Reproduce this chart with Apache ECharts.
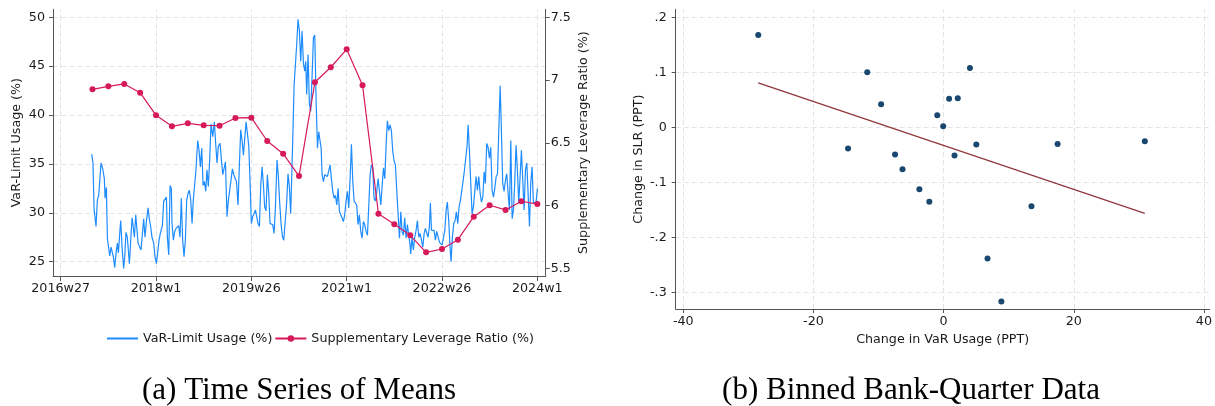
<!DOCTYPE html>
<html>
<head>
<meta charset="utf-8">
<script src="https://cdn.jsdelivr.net/npm/echarts@6/dist/echarts.min.js"></script>
<style>
html,body{margin:0;padding:0;background:#fff;}
#chart{width:1215px;height:406px;}
</style>
</head>
<body>
<div id="chart"></div>
<script>
// ---------- Panel (a): time series of means ----------
// x values are weeks counted from 2016w27
const weekTicks = [0, 78, 156, 234, 312, 390];
const weekTickLabels = ['2016w27', '2018w1', '2019w26', '2021w1', '2022w26', '2024w1'];
const varUsageTicks = [25, 30, 35, 40, 45, 50];
const slrTicks = [5.5, 6, 6.5, 7, 7.5];

// [week, VaR-limit usage %]
const varUsage = [
[25.4,36.0],[26.4,35.1],[27.3,30.4],[28.9,28.6],[30.0,31.3],[31.1,31.8],[33.0,35.1],[34.4,34.5],[35.7,33.5],[36.3,31.5],
[37.4,32.6],[38.2,27.4],[39.0,27.2],[40.1,25.6],[41.2,26.5],[42.3,26.7],[43.1,25.5],[44.2,24.4],[45.3,25.9],[46.4,26.9],
[47.2,25.9],[48.3,27.9],[49.1,29.2],[50.2,26.5],[51.5,24.3],[52.4,25.5],[53.4,28.0],[54.5,27.5],[56.2,24.8],[57.3,27.2],
[58.4,29.5],[59.2,28.7],[60.3,27.5],[61.4,29.8],[62.4,29.6],[63.3,26.9],[64.4,27.0],[65.7,26.2],[67.1,28.2],[67.9,29.4],
[69.0,27.5],[70.1,29.1],[71.5,30.5],[72.5,29.4],[73.6,28.6],[74.7,27.5],[76.1,26.9],[77.2,25.5],[78.3,24.8],[79.4,25.0],
[80.5,27.2],[81.5,27.9],[83.2,28.7],[84.3,31.2],[85.4,31.3],[86.5,31.6],[87.3,27.5],[88.4,25.7],[89.5,32.8],[90.5,32.5],
[91.1,28.9],[92.2,27.2],[93.3,28.1],[94.4,28.4],[95.5,28.3],[96.5,28.7],[97.6,27.5],[98.7,31.5],[99.8,27.2],[100.9,25.5],
[102.0,27.2],[103.1,31.3],[104.2,32.0],[105.3,32.3],[106.4,31.3],[107.5,28.9],[108.5,31.3],[109.6,31.3],[110.7,34.4],
[112.1,37.4],[113.2,36.4],[114.3,34.7],[115.4,36.6],[116.5,32.8],[117.6,33.2],[118.7,32.2],[119.7,34.4],[120.8,32.7],
[121.9,35.4],[123.0,39.1],[124.4,37.8],[125.7,39.3],[126.8,37.1],[127.9,35.1],[129.0,36.8],[130.4,37.1],[131.5,35.4],
[132.6,33.9],[133.7,33.7],[134.8,35.2],[136.1,29.6],[137.2,31.3],[138.3,32.3],[139.4,32.2],[140.5,34.5],[141.6,33.9],
[142.7,33.9],[143.8,33.2],[145.1,30.8],[146.2,34.9],[147.3,38.5],[148.4,37.4],[149.5,35.9],[150.6,36.1],[151.7,39.3],
[152.8,38.1],[153.9,36.8],[154.9,33.3],[156.0,28.9],[157.1,29.6],[158.2,29.9],[159.3,30.3],[160.4,29.6],[161.5,28.9],
[162.6,28.6],[163.7,32.8],[164.8,34.7],[165.8,33.0],[166.9,30.6],[168.0,30.2],[169.1,33.9],[170.2,32.0],[171.3,28.9],
[172.4,28.9],[173.5,28.8],[174.6,27.9],[175.7,30.6],[177.0,35.4],[178.1,33.7],[179.2,31.0],[180.3,28.9],[181.4,27.6],
[182.5,27.2],[183.9,27.0],[184.9,31.0],[186.0,34.0],[187.1,32.7],[188.2,29.9],
[189.9,37.6],[191.0,43.1],[192.0,43.3],[193.1,47.2],[194.2,49.8],[195.3,48.6],[196.4,45.5],[197.5,48.6],[198.6,45.3],
[199.7,44.5],[200.5,45.5],[201.3,42.1],[202.4,46.2],[203.5,41.1],[204.6,40.4],[205.7,44.0],[206.8,47.9],[207.9,48.2],
[209.0,41.4],[210.1,36.6],[211.1,38.3],[212.2,38.5],[213.1,36.6],[213.9,33.9],[215.0,33.2],[216.1,33.9],[217.1,34.1],
[218.2,33.7],[219.3,33.9],[220.4,34.9],[221.5,33.5],[222.6,32.2],[223.7,31.5],[224.8,31.8],[225.9,30.8],[227.0,32.5],
[228.1,30.1],[229.2,29.8],[230.2,29.5],[231.3,29.1],[232.4,29.8],[233.5,31.2],[234.6,32.2],[235.7,30.5],[236.8,33.5],
[237.9,37.0],[239.0,33.2],[240.1,31.2],[241.2,31.2],[242.2,30.8],[243.3,28.8],[244.4,29.8],[245.5,28.1],[246.6,27.4],
[247.7,29.1],[248.8,28.8],[249.9,28.1],[251.0,27.7],[252.1,30.8],[253.2,33.9],[254.2,34.9],[255.3,34.6],[256.4,31.5],
[257.5,31.2],[258.6,32.2],[259.7,33.5],[260.8,32.2],[261.9,30.8],[263.0,30.6],[264.1,34.6],[265.2,33.5],[266.3,37.0],
[267.3,39.4],[268.4,38.4],[269.5,39.0],[270.6,38.4],[271.7,36.3],[272.8,35.3],[273.9,34.9],[275.0,32.2],[276.1,29.8],
[277.2,27.4],[278.3,30.1],[279.3,28.1],[280.4,27.7],[281.5,29.5],[282.6,27.4],[283.7,28.8],[284.8,27.7],[285.9,26.7],
[286.4,25.8],[287.5,27.5],[288.6,26.2],[289.7,27.5],[290.8,28.2],[291.9,29.2],[293.0,27.5],[294.1,27.9],[295.2,27.2],
[296.3,26.5],[297.4,27.9],[298.4,28.4],[299.5,28.6],[300.6,27.5],[301.7,28.6],[302.5,31.0],[303.4,28.2],[304.4,28.1],
[305.5,28.2],[306.6,27.2],[307.7,28.1],[308.8,27.9],[309.9,27.0],[311.0,26.9],[312.1,26.7],[313.2,26.7],[314.3,28.2],
[315.4,30.3],[316.4,31.1],[317.5,29.2],[318.6,26.5],[319.4,25.0],[320.5,27.5],[321.6,28.9],[322.7,29.2],[323.8,30.1],
[324.9,28.9],[326.0,30.6],[327.1,31.3],[328.2,31.5],[329.3,33.3],[330.4,34.4],[331.4,34.4],[332.5,36.8],[333.4,39.0],
[334.4,36.4],[335.5,36.2],[336.6,29.9],[337.7,30.6],[338.8,30.6],[339.9,33.7],[341.0,32.3],[342.1,33.7],[343.2,32.0],
[344.3,31.1],[345.4,31.6],[346.5,34.2],[347.5,33.0],[348.6,37.1],[349.7,36.7],[350.8,35.6],[351.9,36.7],[353.0,32.3],
[354.1,31.6],[355.2,32.5],[356.3,33.7],[357.4,34.0],[358.5,38.5],[359.6,43.0],[360.6,38.5],[361.7,33.0],[362.8,32.2],
[363.9,33.3],[365.0,34.0],[366.1,32.0],[367.2,30.3],[368.3,37.4],[369.4,29.4],[370.5,30.3],[371.6,33.3],[372.6,36.9],
[373.7,34.4],[374.8,31.0],[375.9,33.7],[377.0,36.4],[378.1,33.3],[379.2,30.3],[380.3,34.4],[381.4,35.1],[382.5,34.9],
[383.6,28.6],[384.6,33.0],[385.7,34.7],[386.8,31.0],[387.9,31.0],[389.0,31.1],[390.1,32.5]
];

// quarterly SLR means (week, %)
const slrWeeks = [26,39,52,65,78,91,104,117,130,143,156,169,182,195,208,221,234,247,260,273,286,299,312,325,338,351,364,377,390];
const slrValues = [6.926,6.950,6.969,6.899,6.719,6.631,6.655,6.639,6.636,6.698,6.700,6.514,6.413,6.235,
                   6.982,7.102,7.245,6.958,5.935,5.850,5.763,5.627,5.654,5.728,5.911,6.002,5.965,6.034,6.012];

// ---------- Panel (b): binned bank-quarter data ----------
const binVarChange = [-28.48,-11.73,-9.60,-14.68,-7.46,-6.31,-3.72,-2.19,-0.97,-0.06,0.85,2.18,1.68,4.05,5.03,6.75,8.88,13.50,17.52,30.92];
const binSlrChange = [0.168,0.100,0.042,-0.038,-0.049,-0.076,-0.112,-0.135,0.022,0.002,0.052,0.053,-0.051,0.108,-0.031,-0.238,-0.316,-0.143,-0.030,-0.025];
const fitVar = [-28.48, 30.92];
const fitSlr = [0.081, -0.156];
const binXTicks = [-40, -20, 0, 20, 40];
const binYTicks = [-0.3, -0.2, -0.1, 0, 0.1, 0.2];
const binYTickLabels = ['-.3', '-.2', '-.1', '0', '.1', '.2'];

// ---------- chart ----------
const FONT = 'DejaVu Sans';
const FS = 12.7;
const AXIS_COLOR = '#555';
const TEXT_COLOR = '#1a1a1a';
const GRID_LINE = {type: [5, 3], color: '#e4e4e4', width: 1};

function labelFor(values, labels) {
  return function (v) {
    let best = 0;
    for (let i = 1; i < values.length; i++) {
      if (Math.abs(values[i] - v) < Math.abs(values[best] - v)) best = i;
    }
    return labels[best];
  };
}

function axisBase(extra) {
  return Object.assign({
    axisLine: {show: true, onZero: false, lineStyle: {color: AXIS_COLOR, width: 1}},
    axisTick: {show: true, length: 4, lineStyle: {color: AXIS_COLOR}},
    splitLine: {show: false},
    nameTextStyle: {fontFamily: FONT, fontSize: FS, color: TEXT_COLOR},
  }, extra);
}

function gridMarkLine(yTicks, xTicks) {
  return {
    silent: true, z: 0, symbol: ['none', 'none'], label: {show: false},
    lineStyle: GRID_LINE, emphasis: {disabled: true},
    data: yTicks.map(v => ({yAxis: v})).concat(xTicks.map(v => ({xAxis: v})))
  };
}

const chart = echarts.init(document.getElementById('chart'), null, {renderer: 'canvas'});

const option = {
  animation: false,
  backgroundColor: '#fff',
  textStyle: {fontFamily: FONT},
  grid: [
    {left: 53, top: 9.3, width: 492.7, height: 266.7},
    {left: 675.7, top: 9.3, width: 537.3, height: 299.7}
  ],
  legend: {
    data: [
      {name: 'VaR-Limit Usage (%)', itemStyle: {opacity: 0}},
      {name: 'Supplementary Leverage Ratio (%)'}
    ],
    left: 101,
    top: 327,
    itemWidth: 31,
    itemHeight: 8,
    itemGap: 2,
    textStyle: {fontFamily: FONT, fontSize: FS, color: TEXT_COLOR}
  },
  xAxis: [
    axisBase({
      type: 'value', gridIndex: 0, min: -6.3, max: 396.86,
      axisTick: {show: true, length: 5, lineStyle: {color: AXIS_COLOR}, customValues: weekTicks},
      axisLabel: {customValues: weekTicks, formatter: labelFor(weekTicks, weekTickLabels),
                  fontFamily: FONT, fontSize: FS, color: TEXT_COLOR, margin: 6}
    }),
    axisBase({
      type: 'value', gridIndex: 1, min: -41.16, max: 40.87,
      name: 'Change in VaR Usage (PPT)', nameLocation: 'middle', nameGap: 24,
      axisTick: {show: true, length: 4, lineStyle: {color: AXIS_COLOR}, customValues: binXTicks},
      axisLabel: {customValues: binXTicks, fontFamily: FONT, fontSize: FS, color: TEXT_COLOR, margin: 6}
    })
  ],
  yAxis: [
    axisBase({
      type: 'value', gridIndex: 0, position: 'left', min: 23.537, max: 50.818,
      name: 'VaR-Limit Usage (%)', nameLocation: 'middle', nameRotate: 90, nameGap: 30,
      axisTick: {show: true, length: 4, lineStyle: {color: AXIS_COLOR}, customValues: varUsageTicks},
      axisLabel: {customValues: varUsageTicks, fontFamily: FONT, fontSize: FS, color: TEXT_COLOR, margin: 8}
    }),
    axisBase({
      type: 'value', gridIndex: 0, position: 'right', min: 5.4386, max: 7.5637,
      name: 'Supplementary Leverage Ratio (%)', nameLocation: 'middle', nameRotate: 90, nameGap: 31,
      axisTick: {show: true, length: 4, lineStyle: {color: AXIS_COLOR}, customValues: slrTicks},
      axisLabel: {customValues: slrTicks, fontFamily: FONT, fontSize: FS, color: TEXT_COLOR, margin: 5}
    }),
    axisBase({
      type: 'value', gridIndex: 1, position: 'left', min: -0.3296, max: 0.2145,
      name: 'Change in SLR (PPT)', nameLocation: 'middle', nameRotate: 90, nameGap: 31,
      axisTick: {show: true, length: 4, lineStyle: {color: AXIS_COLOR}, customValues: binYTicks},
      axisLabel: {customValues: binYTicks, formatter: labelFor(binYTicks, binYTickLabels),
                  fontFamily: FONT, fontSize: FS, color: TEXT_COLOR, margin: 9}
    })
  ],
  series: [
    {
      name: 'gridA', type: 'line', xAxisIndex: 0, yAxisIndex: 0, data: [], silent: true, z: 0,
      markLine: gridMarkLine(varUsageTicks, weekTicks)
    },
    {
      name: 'gridB', type: 'line', xAxisIndex: 1, yAxisIndex: 2, data: [], silent: true, z: 0,
      markLine: gridMarkLine(binYTicks, binXTicks)
    },
    {
      name: 'VaR-Limit Usage (%)', type: 'line', xAxisIndex: 0, yAxisIndex: 0, z: 3,
      data: varUsage, showSymbol: false, symbol: 'none',
      lineStyle: {color: '#1e8cff', width: 1.2}, itemStyle: {color: '#1e8cff'}
    },
    {
      name: 'Supplementary Leverage Ratio (%)', type: 'line', xAxisIndex: 0, yAxisIndex: 1, z: 4,
      data: slrWeeks.map((w, i) => [w, slrValues[i]]),
      symbol: 'circle', symbolSize: 6, showSymbol: true,
      lineStyle: {color: '#d6195a', width: 1.2}, itemStyle: {color: '#d6195a'}
    },
    {
      name: 'bins', type: 'scatter', xAxisIndex: 1, yAxisIndex: 2, z: 4,
      data: binVarChange.map((x, i) => [x, binSlrChange[i]]),
      symbol: 'circle', symbolSize: 6, itemStyle: {color: '#1a476f', opacity: 1}
    },
    {
      name: 'fit', type: 'line', xAxisIndex: 1, yAxisIndex: 2, z: 3,
      data: fitVar.map((x, i) => [x, fitSlr[i]]), showSymbol: false, symbol: 'none',
      lineStyle: {color: '#90353b', width: 1.2}
    }
  ],
  graphic: [
    {type: 'text', x: 299, y: 391, silent: true,
     style: {text: '(a) Time Series of Means', font: '31px "Liberation Serif"', fill: '#000',
             align: 'center', verticalAlign: 'middle', textAlign: 'center', textVerticalAlign: 'middle'}},
    {type: 'text', x: 911, y: 391, silent: true,
     style: {text: '(b) Binned Bank-Quarter Data', font: '31px "Liberation Serif"', fill: '#000',
             align: 'center', verticalAlign: 'middle', textAlign: 'center', textVerticalAlign: 'middle'}}
  ]
};
chart.setOption(option);
</script>
</body>
</html>
